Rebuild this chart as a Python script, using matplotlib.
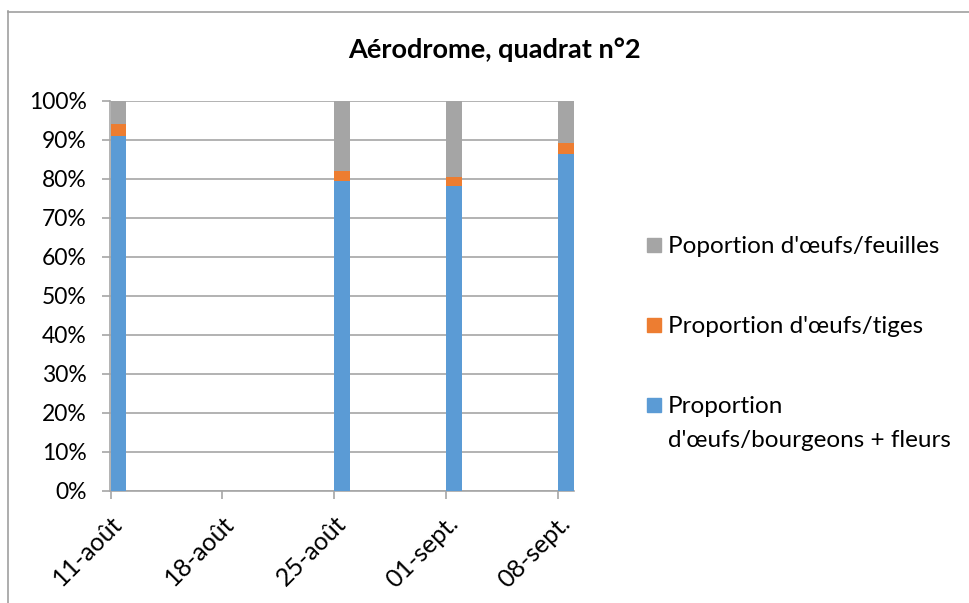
import matplotlib
matplotlib.use('Agg')
import matplotlib.pyplot as plt
import matplotlib.dates as mdates
import matplotlib.transforms as mtransforms
from matplotlib.lines import Line2D
from matplotlib.patches import Rectangle
import numpy as np
import datetime as dt

# Data
dates = ['2014-08-11', '2014-08-25', '2014-09-01', '2014-09-08']
fleurs = [91.0, 79.4, 78.2, 86.4]
tiges = [3.0, 2.6, 2.2, 2.8]
feuilles = [6.0, 18.0, 19.6, 10.8]

tick_dates = ['2014-08-11', '2014-08-18', '2014-08-25', '2014-09-01', '2014-09-08']
tick_labels = ['11-août', '18-août', '25-août', '01-sept.', '08-sept.']

series_names = ["Proportion\nd'œufs/bourgeons + fleurs",
                "Proportion d'œufs/tiges",
                "Poportion d'œufs/feuilles"]
colors = ['#5B9BD5', '#ED7D31', '#A5A5A5']

plt.rcParams['font.family'] = ['Lato', 'DejaVu Sans']

W, H = 970, 603
fig = plt.figure(figsize=(W / 100, H / 100), dpi=100)
ax = fig.add_axes([110.5 / W, (H - 490.5) / H, (574 - 110.5) / W, (490.5 - 100.5) / H])

x = mdates.date2num([dt.datetime.fromisoformat(d) for d in dates])
values = [np.array(fleurs), np.array(tiges), np.array(feuilles)]
bottom = np.zeros(len(x))
for vals, col in zip(values, colors):
    ax.bar(x, vals, width=1.0, bottom=bottom, align='edge', color=col, zorder=3)
    bottom = bottom + vals

xt = mdates.date2num([dt.datetime.fromisoformat(d) for d in tick_dates])
ax.set_xlim(xt[0], xt[-1] + 1)
ax.set_ylim(0, 100)
ax.set_yticks(np.arange(0, 101, 10))
ax.set_yticklabels(['%d%%' % v for v in range(0, 101, 10)], fontsize=16.5)
ax.set_xticks(xt)
ax.set_xticklabels(tick_labels, fontsize=18, rotation=45, ha='right', va='top',
                   rotation_mode='anchor')
# nudge rotated labels slightly right, like the original
offset = mtransforms.ScaledTranslation(5 / 100, 0, fig.dpi_scale_trans)
for lab in ax.get_xticklabels():
    lab.set_transform(lab.get_transform() + offset)

grid_col = '#A6A6A6'
ax.yaxis.grid(True, color=grid_col, linewidth=1.2, zorder=0)
for s in ['top', 'right']:
    ax.spines[s].set_visible(False)
for s in ['left', 'bottom']:
    ax.spines[s].set_color(grid_col)
    ax.spines[s].set_linewidth(1.2)
ax.tick_params(axis='both', direction='out', length=6, width=1.2, color=grid_col)
ax.tick_params(axis='y', pad=11)
ax.tick_params(axis='x', pad=9)

fig.text(494 / W, 1 - 50 / H, 'Aérodrome, quadrat n°2', ha='center', va='center',
         fontsize=19.5, fontweight='bold')

# Legend (drawn manually, gray on top)
leg_y = [245, 325, 405]
for i, idx in enumerate([2, 1, 0]):
    y = leg_y[i]
    fig.patches.append(Rectangle((647 / W, 1 - (y + 7) / H), 14 / W, 14 / H,
                                 transform=fig.transFigure, color=colors[idx]))
    fig.text(668 / W, 1 - (y - 9) / H, series_names[idx], ha='left', va='top',
             fontsize=17.5, linespacing=1.75)

# Chart border
fig.add_artist(Line2D([8.5 / W, 8.5 / W], [1 - 11 / H, 0], transform=fig.transFigure,
                      color='#A0A0A0', linewidth=1.2))
fig.add_artist(Line2D([8 / W, 1], [1 - 11.5 / H, 1 - 11.5 / H], transform=fig.transFigure,
                      color='#A0A0A0', linewidth=1.2))

fig.savefig('out.png', dpi=100)
